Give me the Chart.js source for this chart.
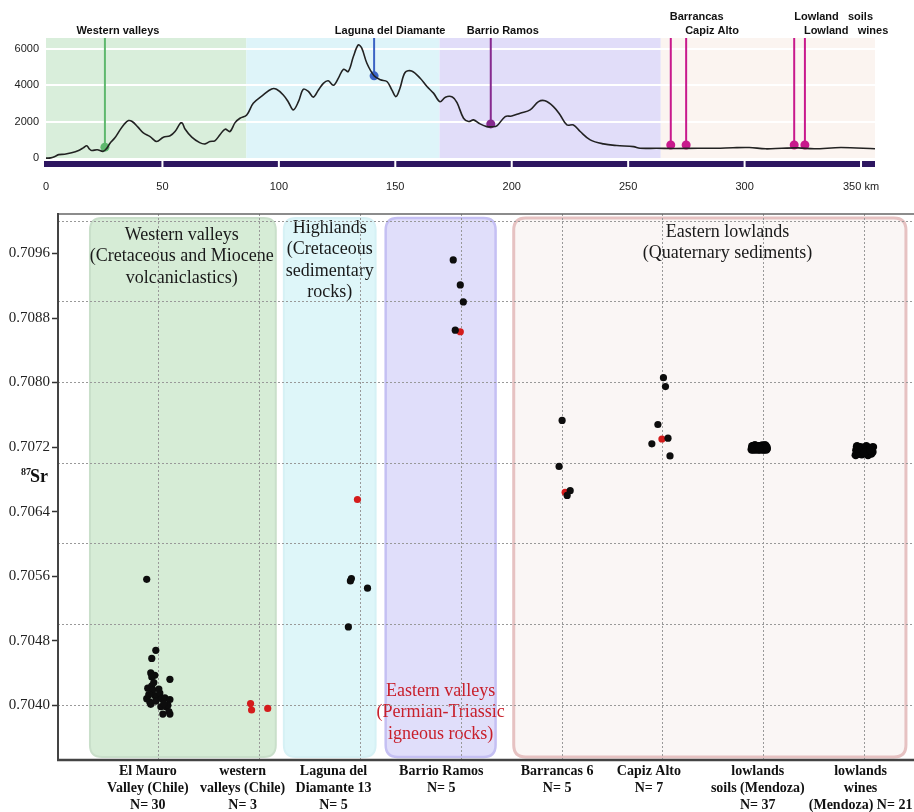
<!DOCTYPE html>
<html><head><meta charset="utf-8">
<script src="https://cdn.jsdelivr.net/npm/chart.js@4.4.1/dist/chart.umd.min.js"></script>
<style>
html,body{margin:0;padding:0;background:#fff;}
#wrap{position:relative;width:914px;height:812px;overflow:hidden;background:#fff;}
#c1{position:absolute;left:0;top:0;}
#c2{position:absolute;left:0;top:200px;}
</style></head><body>
<div id="wrap">
<canvas id="c1" width="914" height="200"></canvas>
<canvas id="c2" width="914" height="612"></canvas>
</div>
<script>
// ---------------- TOP: elevation profile ----------------
const profileKm = [0,2,4,5.5,8,11,14,16,17.5,18.5,19.6,22,24.5,26,27.5,29.5,31.8,33.5,35.4,37,39.5,41.8,44.7,47.5,50.4,53.3,55.4,57.6,58.5,59.7,62.6,66,68.3,70.4,72.5,74.7,76.9,79,81.2,83.3,86.2,89,93.3,96.9,99,101.9,104,106.2,108.4,110.5,112.7,114.8,117,119.1,121.2,123.4,125.5,127.7,129.8,132,134.1,135.6,137.8,140.9,143.6,146.4,148.5,150.3,152,154.2,157,160.7,163.6,166.4,169.2,171.5,174.5,176.5,179.3,181.5,183.6,186.4,189.3,191.5,193.6,197.2,200,203.6,207.9,211.5,214.3,217.9,220.8,223.7,226.5,229.4,233.7,239.4,245.1,252.3,255.1,262.2,270,280,288,295,302,309,316,323,330,341.4,356];
const profileElev = [0,10,100,190,210,290,420,560,680,520,420,460,370,520,820,1100,1550,1850,2060,2010,1700,1380,1180,910,1150,1230,1460,1900,1930,1600,1150,850,780,910,950,1280,1590,1460,1950,2190,2370,3010,3470,3800,3780,3470,3100,2650,3100,3780,3660,3350,3740,4110,4250,4000,4380,4880,4760,5580,6220,6040,5210,4520,4300,4210,3750,3380,3840,4700,4790,4390,3930,3570,3100,3350,3360,3050,2190,2010,2100,1880,1730,1720,1770,2280,2310,2470,2650,3100,3150,2830,2370,1820,1820,1460,1000,780,690,630,540,540,530,540,540,570,580,510,540,560,510,580,510];
const siteNames = ['Western valleys','Laguna del Diamante','Barrio Ramos','Barrancas','Capiz Alto','Lowland   soils','Lowland   wines'];
const siteKm = [25.3,140.9,191,268.3,274.9,321.3,325.9];
const siteElev = [600,4520,1880,720,720,720,720];
const kmTicks = [0,50,100,150,200,250,300,350];
const elevTicks = [0,2000,4000,6000];
const zoneStartKm = [0,86,169,264];
const zoneEndKm = [86,169,264,356];

// styles (top)
const siteColors = ['#5fb86e','#3b63c4','#862a8f','#c8198c','#c8198c','#c8198c','#c8198c'];
const zoneFill = ['#d9eedb','#def4f9','#e1ddf9','#fbf4f0'];
const labelAlign = ['center','center','center','left','left','left','left'];
const labelDx = [13,16,12,-1,-1,0,-1];
const labelY = [31,31,31,17,31,17,31];

const topPlugin = {
  id: 'topDecor',
  beforeDraw(chart) {
    const {ctx, chartArea: a, scales: {x}} = chart;
    ctx.save();
    zoneStartKm.forEach((s, i) => {
      const x1 = x.getPixelForValue(s), x2 = x.getPixelForValue(zoneEndKm[i]);
      ctx.fillStyle = zoneFill[i];
      ctx.fillRect(x1, a.top, x2 - x1, a.bottom - a.top - 1);
    });
    ctx.restore();
  },
  beforeDatasetsDraw(chart) {
    const {ctx, chartArea: a, scales: {x, y}} = chart;
    ctx.save();
    ctx.lineWidth = 2;
    siteKm.forEach((k, i) => {
      const px = x.getPixelForValue(k), py = y.getPixelForValue(siteElev[i]);
      ctx.strokeStyle = siteColors[i];
      ctx.beginPath(); ctx.moveTo(px, a.top); ctx.lineTo(px, py); ctx.stroke();
    });
    ctx.restore();
  },
  afterDraw(chart) {
    const {ctx, chartArea: a, scales: {x}} = chart;
    ctx.save();
    ctx.fillStyle = '#2d1660';
    ctx.fillRect(a.left - 2, a.bottom + 2, a.right - a.left + 2, 6);
    ctx.fillStyle = '#fff';
    kmTicks.forEach(t => {
      if (t > 0) { const px = x.getPixelForValue(t); if (px < a.right - 3) ctx.fillRect(px - 1, a.bottom + 2, 2, 6); }
    });
    ctx.font = 'bold 11px "Liberation Sans", Arial, sans-serif';
    ctx.fillStyle = '#111';
    ctx.textBaseline = 'middle';
    siteNames.forEach((n, i) => {
      const px = x.getPixelForValue(siteKm[i]);
      ctx.textAlign = labelAlign[i];
      ctx.fillText(n, px + labelDx[i], labelY[i]);
    });
    ctx.restore();
  }
};

new Chart(document.getElementById('c1'), {
  type: 'line',
  data: {
    datasets: [
      {
        data: profileKm.map((k, i) => ({x: k, y: profileElev[i]})),
        borderColor: '#222', borderWidth: 1.6, pointRadius: 0, tension: 0.35, fill: false
      },
      {
        data: siteKm.map((k, i) => ({x: k, y: siteElev[i]})),
        showLine: false, pointRadius: 4.5, pointBorderWidth: 0,
        pointBackgroundColor: siteColors, pointBorderColor: siteColors
      }
    ]
  },
  options: {
    responsive: false, animation: false,
    layout: {autoPadding: false, padding: {top: 38, right: 39, left: 0, bottom: 0}},
    plugins: {legend: {display: false}, tooltip: {enabled: false}},
    scales: {
      x: {
        type: 'linear', min: 0, max: 356,
        afterBuildTicks: s => { s.ticks = kmTicks.map(v => ({value: v})); },
        afterFit: s => { s.height = 41; s.paddingLeft = 0; s.paddingRight = 0; },
        grid: {display: false},
        border: {display: false},
        ticks: {
          padding: 13, color: '#222', maxRotation: 0, autoSkip: false,
          font: {family: '"Liberation Sans", Arial, sans-serif', size: 11},
          callback: v => v === 350 ? '350 km' : String(v)
        }
      },
      y: {
        min: -50, max: 6600,
        afterBuildTicks: s => { s.ticks = elevTicks.map(v => ({value: v})); },
        afterFit: s => { s.width = 46; s.paddingTop = 0; s.paddingBottom = 0; },
        grid: {color: c => c.tick && c.tick.value === 0 ? 'rgba(0,0,0,0)' : '#ffffff', lineWidth: 2, drawTicks: false},
        border: {display: false},
        ticks: {
          padding: 7, color: '#222',
          font: {family: '"Liberation Sans", Arial, sans-serif', size: 11},
          callback: v => String(v)
        }
      }
    }
  },
  plugins: [topPlugin]
});

// ---------------- BOTTOM: 87Sr/86Sr scatter ----------------
const categoryPos = [1,2,3,4,5,6,7,8];
const categoryLabels = [
  ['El Mauro','Valley (Chile)','N= 30'],
  ['western','valleys (Chile)','N= 3'],
  ['Laguna del','Diamante 13','N= 5'],
  ['Barrio Ramos','N= 5'],
  ['Barrancas 6','N= 5'],
  ['Capiz Alto','N= 7'],
  ['lowlands','soils (Mendoza)','N= 37'],
  ['lowlands','wines','(Mendoza) N= 21']
];
const yTickLabels = [0.7040,0.7048,0.7056,0.7064,0.7072,0.7080,0.7088,0.7096];
const yGridValues = [0.7040,0.7050,0.7060,0.7070,0.7080,0.7090,0.7100];

const elMauroX = [0.88,0.97,0.93,0.92,0.96,0.93,1.11,0.89,0.93,0.94,0.88,0.91,0.92,0.96,0.98,1.01,1.03,1.06,1.11,1.02,1.07,1.09,1.04,1.11,0.97,1.00,0.90,1.05,0.95,1.10];
const elMauroY = [0.70556,0.70468,0.70458,0.70440,0.70437,0.70435,0.70432,0.70421,0.70424,0.70419,0.70408,0.70404,0.70401,0.70412,0.70410,0.70415,0.70408,0.70409,0.70407,0.70398,0.70398,0.70400,0.70389,0.70389,0.70405,0.70420,0.70413,0.70402,0.70428,0.70392];
const westernX = [1.91,1.92,2.08];
const westernY = [0.70402,0.70394,0.70396];
const lagunaX = [2.90,2.91,3.07,2.88];
const lagunaY = [0.70554,0.70557,0.70545,0.70497];
const lagunaRedX = [2.97];
const lagunaRedY = [0.70655];
const barrioX = [3.92,3.99,4.02,3.94];
const barrioY = [0.70952,0.70921,0.70900,0.70865];
const barrioRedX = [3.99];
const barrioRedY = [0.70863];
const barrancasX = [5.00,4.97,5.08,5.05];
const barrancasY = [0.70753,0.70696,0.70666,0.70660];
const barrancasRedX = [5.03];
const barrancasRedY = [0.70664];
const capizX = [6.005,6.025,5.95,6.05,5.89,6.07];
const capizY = [0.70806,0.70795,0.70748,0.70731,0.70724,0.70709];
const capizRedX = [5.99];
const capizRedY = [0.70730];
const soilsX = [6.880,6.893,6.902,6.915,6.921,6.934,6.940,6.952,6.963,6.971,6.985,6.992,7.004,7.013,7.021,7.030,6.886,6.898,6.909,6.927,6.946,6.958,6.977,6.997,7.009,7.025,6.884,6.918,6.937,6.966,6.989,7.016,6.905,6.944,6.981,7.027,6.955];
const soilsY = [0.70717,0.70721,0.70719,0.70722,0.70717,0.70720,0.70718,0.70721,0.70717,0.70720,0.70722,0.70718,0.70717,0.70721,0.70719,0.70718,0.70721,0.70717,0.70722,0.70719,0.70717,0.70721,0.70720,0.70718,0.70722,0.70717,0.70719,0.70721,0.70718,0.70720,0.70717,0.70722,0.70719,0.70721,0.70718,0.70720,0.70719];
const winesX = [7.912,7.925,7.941,7.958,7.972,7.989,8.003,8.018,8.034,8.051,8.067,8.083,7.918,7.947,7.979,8.011,8.046,8.078,7.935,7.995,8.060];
const winesY = [0.70710,0.70721,0.70712,0.70720,0.70711,0.70719,0.70713,0.70721,0.70710,0.70718,0.70712,0.70720,0.70716,0.70714,0.70717,0.70715,0.70716,0.70714,0.70718,0.70713,0.70716];

const zoneTitles = [
  ['Western valleys','(Cretaceous and Miocene','volcaniclastics)'],
  ['Highlands','(Cretaceous','sedimentary','rocks)'],
  ['Eastern lowlands','(Quaternary sediments)'],
  ['Eastern valleys','(Permian-Triassic','igneous rocks)']
];

// styles / layout (bottom)
const boxFrom = [0.317,2.24,3.25,4.52];
const boxTo = [2.16,3.15,4.34,8.41];
const boxFill = ['#d6ecd6','#def6f9','#e0defa','#faf6f5'];
const boxStroke = ['#c9dfca','#d6f1f5','#c5c0f3','#e6c2c2'];
const boxLineW = [2,2,2.5,3];
const titleX = [1.228,2.695,6.64,3.795];
const titleY = [35,28,32,491];
const titleColor = ['#1a1a1a','#1a1a1a','#1a1a1a','#c8202c'];
const xLabelDx = [-11,-17,-27,-20,-5,-14,-6,-4];
const xLabelTop = 571;
const xLabelLine = 17;

function pts(xs, ys) { return xs.map((v, i) => ({x: v, y: ys[i]})); }
const near = (a, b) => Math.abs(a - b) < 1e-7;
const isGridVal = v => yGridValues.some(g => near(g, v));
const isLabelVal = v => yTickLabels.some(g => near(g, v));
const yAllTicks = [...new Set([...yTickLabels, ...yGridValues].map(v => v.toFixed(4)))].map(Number).sort((a, b) => a - b);

function rrect(ctx, x, y, w, h, r) {
  ctx.beginPath();
  ctx.moveTo(x + r, y);
  ctx.lineTo(x + w - r, y); ctx.quadraticCurveTo(x + w, y, x + w, y + r);
  ctx.lineTo(x + w, y + h - r); ctx.quadraticCurveTo(x + w, y + h, x + w - r, y + h);
  ctx.lineTo(x + r, y + h); ctx.quadraticCurveTo(x, y + h, x, y + h - r);
  ctx.lineTo(x, y + r); ctx.quadraticCurveTo(x, y, x + r, y);
  ctx.closePath();
}

const bottomPlugin = {
  id: 'bottomDecor',
  beforeDraw(chart) {
    const {ctx, chartArea: a, scales: {x}} = chart;
    ctx.save();
    boxFrom.forEach((f, i) => {
      const x1 = x.getPixelForValue(f), x2 = x.getPixelForValue(boxTo[i]);
      const y1 = a.top + 4, y2 = a.bottom - 3;
      rrect(ctx, x1, y1, x2 - x1, y2 - y1, 12);
      ctx.fillStyle = boxFill[i]; ctx.fill();
      ctx.lineWidth = boxLineW[i]; ctx.strokeStyle = boxStroke[i]; ctx.stroke();
    });
    ctx.font = '18px "Liberation Serif", "Times New Roman", serif';
    ctx.textAlign = 'center'; ctx.textBaseline = 'middle';
    zoneTitles.forEach((lines, i) => {
      const cx = x.getPixelForValue(titleX[i]);
      ctx.fillStyle = titleColor[i];
      lines.forEach((ln, j) => ctx.fillText(ln, cx, titleY[i] + j * 21.5));
    });
    ctx.restore();
  },
  afterDraw(chart) {
    const {ctx, chartArea: a, scales: {x}} = chart;
    ctx.save();
    ctx.strokeStyle = '#666'; ctx.lineWidth = 1.5;
    ctx.beginPath(); ctx.moveTo(a.left, a.top); ctx.lineTo(a.right, a.top); ctx.stroke();
    ctx.strokeStyle = '#444'; ctx.lineWidth = 2;
    ctx.beginPath(); ctx.moveTo(a.left, a.top - 1); ctx.lineTo(a.left, a.bottom); ctx.stroke();
    ctx.lineWidth = 2.5;
    ctx.beginPath(); ctx.moveTo(a.left - 1, a.bottom); ctx.lineTo(a.right, a.bottom); ctx.stroke();
    // category labels
    ctx.fillStyle = '#111';
    ctx.textAlign = 'center'; ctx.textBaseline = 'middle';
    ctx.font = 'bold 14px "Liberation Serif", "Times New Roman", serif';
    categoryLabels.forEach((lines, i) => {
      const cx = x.getPixelForValue(categoryPos[i]) + xLabelDx[i];
      lines.forEach((ln, j) => ctx.fillText(ln, cx, xLabelTop + j * xLabelLine));
    });
    // y-axis name
    ctx.textAlign = 'left'; ctx.textBaseline = 'alphabetic';
    ctx.font = 'bold 10px "Liberation Serif", serif';
    ctx.fillText('87', 21, 275);
    ctx.font = 'bold 18px "Liberation Serif", serif';
    ctx.fillText('Sr', 30, 282);
    ctx.restore();
  }
};

const blackPts = [].concat(pts(elMauroX, elMauroY), pts(lagunaX, lagunaY), pts(barrioX, barrioY), pts(barrancasX, barrancasY), pts(capizX, capizY));
const lowlandPts = [].concat(pts(soilsX, soilsY), pts(winesX, winesY));
const redPts = [].concat(pts(westernX, westernY), pts(lagunaRedX, lagunaRedY), pts(barrioRedX, barrioRedY), pts(barrancasRedX, barrancasRedY), pts(capizRedX, capizRedY));

new Chart(document.getElementById('c2'), {
  type: 'scatter',
  data: {
    datasets: [
      {data: blackPts, pointRadius: 3.6, pointBackgroundColor: '#0d0d0d', pointBorderWidth: 0},
      {data: lowlandPts, pointRadius: 4.2, pointBackgroundColor: '#050505', pointBorderWidth: 0},
      {data: redPts, pointRadius: 3.6, pointBackgroundColor: '#d41c1c', pointBorderWidth: 0}
    ]
  },
  options: {
    responsive: false, animation: false,
    layout: {autoPadding: false, padding: {top: 14, right: 0, left: 0, bottom: 0}},
    plugins: {legend: {display: false}, tooltip: {enabled: false}},
    scales: {
      x: {
        type: 'linear', min: 0, max: 8.49,
        afterBuildTicks: s => { s.ticks = categoryPos.map(v => ({value: v})); },
        afterFit: s => { s.height = 52; s.paddingLeft = 0; s.paddingRight = 0; },
        grid: {color: '#999999', lineWidth: 1, drawTicks: false},
        border: {display: false, dash: [2, 2]},
        ticks: {display: false}
      },
      y: {
        min: 0.70332, max: 0.71009,
        afterBuildTicks: s => { s.ticks = yAllTicks.map(v => ({value: v})); },
        afterFit: s => { s.width = 58; s.paddingTop = 0; s.paddingBottom = 0; },
        grid: {
          color: c => (c.tick && isGridVal(c.tick.value)) ? '#999999' : 'rgba(0,0,0,0)',
          tickColor: c => (c.tick && isLabelVal(c.tick.value)) ? '#333' : 'rgba(0,0,0,0)',
          lineWidth: 1, tickLength: 6, tickWidth: 1.5
        },
        border: {display: false, dash: [2, 2]},
        ticks: {
          padding: 2, color: '#222', autoSkip: false,
          font: {family: '"Liberation Serif", "Times New Roman", serif', size: 15},
          callback: v => isLabelVal(v) ? v.toFixed(4) : ''
        }
      }
    }
  },
  plugins: [bottomPlugin]
});
</script>
</body></html>
